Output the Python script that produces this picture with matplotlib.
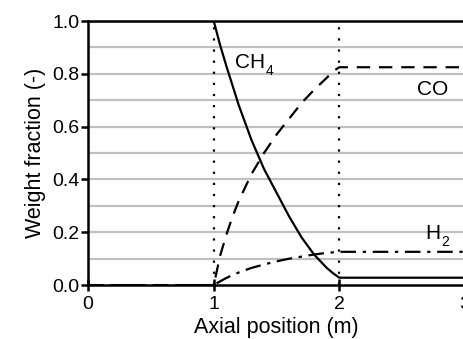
import numpy as np
import matplotlib
matplotlib.use('Agg')
import matplotlib.pyplot as plt

plt.rcParams['font.family'] = ['Liberation Sans', 'DejaVu Sans']

# axial position (m) and weight fractions
x_react = [1.0, 1.05, 1.1, 1.15, 1.2, 1.3, 1.4, 1.5, 1.6, 1.7, 1.8, 1.9, 1.95, 2.0]
ch4_react = [1.0, 0.91, 0.83, 0.755, 0.68, 0.55, 0.44, 0.35, 0.26, 0.18, 0.115, 0.065, 0.045, 0.028]
co_react = [0.0, 0.11, 0.19, 0.26, 0.32, 0.42, 0.50, 0.57, 0.63, 0.69, 0.74, 0.785, 0.81, 0.825]
h2_react = [0.0, 0.014, 0.027, 0.038, 0.048, 0.065, 0.078, 0.09, 0.10, 0.108, 0.116, 0.122, 0.124, 0.126]

x_in = [0.0, 1.0]
x_out = [2.0, 3.0]

x_all = x_in + x_react + x_out
ch4 = [1.0, 1.0] + ch4_react + [ch4_react[-1]] * 2
co = [0.0, 0.0] + co_react + [co_react[-1]] * 2
h2 = [0.0, 0.0] + h2_react + [h2_react[-1]] * 2


def label(ax, x, y, main, sub=None, size=15):
    # species label with a low, small subscript like the original
    t = ax.text(x, y, main, fontsize=size, va='baseline')
    if sub:
        ax.annotate(sub, xy=(1, 0), xycoords=t, xytext=(0.5, -2.4),
                    textcoords='offset points', fontsize=10, va='baseline')


fig = plt.figure(figsize=(4.64, 3.39), dpi=100)
ax = fig.add_axes([0.19, 0.159, 0.812, 0.779])

for yy in np.arange(0.1, 1.0, 0.1):
    ax.axhline(yy, color='#c0c0c0', lw=1.6, zorder=0)

ax.plot([1, 1], [0, 1], color='k', ls=(0, (1, 4)), lw=1.6)
ax.plot([2, 2], [0, 1], color='k', ls=(0, (1, 4)), lw=1.6)

ax.plot(x_all, ch4, color='k', lw=1.6, ls='-')
ax.plot(x_all, co, color='k', lw=1.6, ls=(0, (6, 4)))
ax.plot(x_all, h2, color='k', lw=1.6, ls=(0, (7, 3, 1.5, 3)))

label(ax, 1.17, 0.822, 'CH', '4')
label(ax, 2.62, 0.72, 'CO')
label(ax, 2.685, 0.174, 'H', '2')

ax.set_xlim(0, 3)
ax.set_ylim(0, 1)
ax.set_xticks([0, 1, 2, 3])
ax.set_yticks(np.arange(0, 1.01, 0.2))
ax.set_yticklabels(['0.0', '0.2', '0.4', '0.6', '0.8', '1.0'])
ax.tick_params(axis='y', direction='out', length=5, width=1.8, labelsize=14, pad=1)
ax.tick_params(axis='x', direction='inout', length=9, width=1.8, labelsize=14, pad=3)
for s in ax.spines.values():
    s.set_linewidth(1.8)
ax.spines['right'].set_visible(False)

ax.set_xlabel('Axial position (m)', fontsize=15.5, labelpad=3)
ax.set_ylabel('Weight fraction (-)', fontsize=15.5, labelpad=5)

fig.savefig('out.png', dpi=100)
